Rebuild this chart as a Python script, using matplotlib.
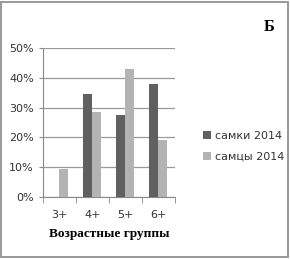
import numpy as np
import matplotlib
matplotlib.use('Agg')
import matplotlib.pyplot as plt
from matplotlib.patches import Rectangle

# данные
группы = ['3+', '4+', '5+', '6+']
самки_2014 = [0, 34.5, 27.5, 38]
самцы_2014 = [9.5, 28.5, 43, 19]

fig = plt.figure(figsize=(2.9, 2.59), dpi=100)
ax = fig.add_axes([0.148, 0.239, 0.455, 0.576])

x = np.arange(len(группы))
w = 0.27
ax.bar(x - w / 2, самки_2014, w, color='#606060', label='самки 2014', zorder=3)
ax.bar(x + w / 2, самцы_2014, w, color='#b3b3b3', label='самцы 2014', zorder=3)

ax.set_xlim(-0.5, 3.5)
ax.set_ylim(0, 50)
ax.set_yticks([0, 10, 20, 30, 40, 50])
ax.set_yticklabels([f'{v}%' for v in range(0, 51, 10)])
ax.set_xticks(x)
ax.set_xticklabels(группы)
ax.set_xticks(np.arange(-0.5, 4, 1), minor=True)
ax.tick_params(axis='x', which='major', length=0, pad=9, labelsize=8, colors='#333333')
ax.tick_params(axis='x', which='minor', length=4, color='#888888')
ax.tick_params(axis='y', length=3, color='#888888', labelsize=8, labelcolor='#333333')

ax.grid(axis='y', color='#999999', linewidth=0.9, zorder=0)
for s in ['top', 'right']:
    ax.spines[s].set_visible(False)
ax.spines['left'].set_color('#888888')
ax.spines['bottom'].set_color('#888888')

ax.set_xlabel('Возрастные группы', fontfamily='Liberation Serif', fontweight='bold',
              fontsize=9.5, labelpad=6)

fig.legend(loc='center left', bbox_to_anchor=(0.665, 0.435), frameon=False,
           fontsize=8, handlelength=0.7, handleheight=0.7, handletextpad=0.4,
           labelspacing=0.95, labelcolor='#333333')

fig.text(0.93, 0.895, 'Б', fontfamily='Liberation Serif', fontweight='bold',
         fontsize=12, ha='center', va='center')

fig.patches.append(Rectangle((0.004, 0.006), 0.988, 0.988, transform=fig.transFigure,
                             fill=False, edgecolor='#999999', linewidth=1.4))

fig.savefig('out.png', dpi=100)
